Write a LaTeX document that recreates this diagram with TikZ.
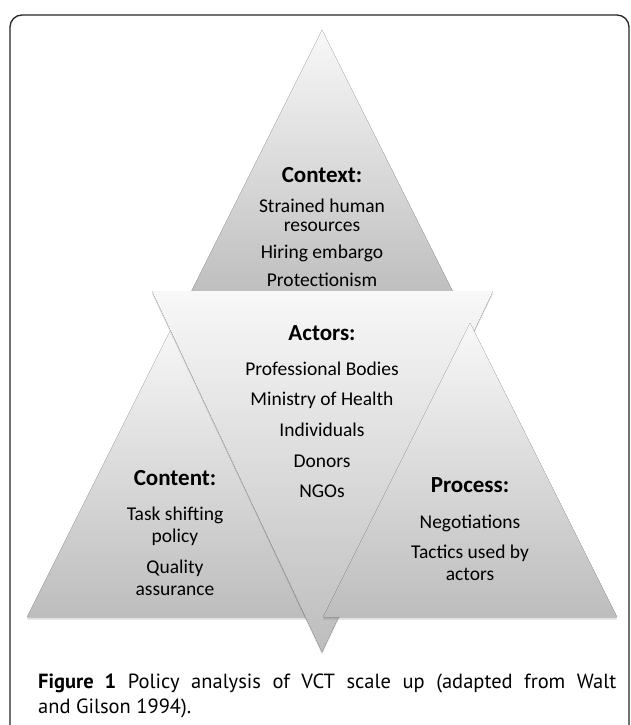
\documentclass[tikz,border=0pt]{standalone}
\usepackage{fontspec}
\setmainfont{Carlito}
\newfontfamily\capfont{PT Sans}
\usetikzlibrary{shadows}
\definecolor{triTop}{HTML}{F8F8F8}
\definecolor{triBot}{HTML}{BDBDBD}

\begin{document}
\begin{tikzpicture}[x=1pt,y=-1pt,
	frame/.style={line width=1.3pt,rounded corners=12pt,draw=black!85},
	tri/.style={top color=triTop,bottom color=triBot,
		drop shadow={shadow xshift=0pt,shadow yshift=-2.5pt,opacity=.18,fill=black!70}},
	head/.style={anchor=base,inner sep=0pt,font=\fontsize{23}{25}\selectfont\bfseries},
	item/.style={anchor=base,inner sep=0pt,font=\fontsize{19.5}{21}\selectfont},
	captext/.style={anchor=base west,inner sep=0pt,font=\capfont\fontsize{20.5}{23}\selectfont}]
	\useasboundingbox (0,0) rectangle (630,725);
	\clip (0,0) rectangle (630,725);
	\fill[white] (0,0) rectangle (630,725);
	\draw[frame] (10,15) rectangle (629,790);
	% corners of the four triangles
	\coordinate (CtxTop) at (322,30);
	\coordinate (CtxL) at (187,300);
	\coordinate (CtxR) at (457,300);
	\coordinate (CntTop) at (174,323);
	\coordinate (CntL) at (27,617);
	\coordinate (CntR) at (321,617);
	\coordinate (ActL) at (152,291);
	\coordinate (ActR) at (493,291);
	\coordinate (ActTip) at (322,652);
	\coordinate (PrcTop) at (470,323);
	\coordinate (PrcL) at (323,617);
	\coordinate (PrcR) at (617,617);
	\fill[tri] (CtxTop) -- (CtxR) -- (CtxL) -- cycle;
	\fill[tri] (CntTop) -- (CntR) -- (CntL) -- cycle;
	\fill[tri] (ActL) -- (ActR) -- (ActTip) -- cycle;
	\fill[tri] (PrcTop) -- (PrcR) -- (PrcL) -- cycle;
	% texts
	\node[head] (Context) at (322,182) {Context:};
	\node[item] (CtxA) at (322,212) {Strained human};
	\node[item] (CtxB) at (322,231) {resources};
	\node[item] (CtxC) at (322,258) {Hiring embargo};
	\node[item] (CtxD) at (322,286) {Protectionism};
	\node[head] (Actors) at (322,340) {Actors:};
	\node[item] (ActA) at (322,375) {Professional Bodies};
	\node[item] (ActB) at (322,405) {Ministry of Health};
	\node[item] (ActC) at (322,436) {Individuals};
	\node[item] (ActD) at (322,467) {Donors};
	\node[item] (ActE) at (322,497) {NGOs};
	\node[head] (Content) at (175,485) {Content:};
	\node[item] (CntA) at (175,520) {Task shifting};
	\node[item] (CntB) at (175,542) {policy};
	\node[item] (CntC) at (175,573) {Quality};
	\node[item] (CntD) at (175,595) {assurance};
	\node[head] (Process) at (470,492) {Process:};
	\node[item] (PrcA) at (470,528) {Negotiations};
	\node[item] (PrcB) at (470,558) {Tactics used by};
	\node[item] (PrcC) at (470,580) {actors};
	% caption
	\node[captext] (CapA) at (38,688) {\makebox[578pt][s]{\textbf{Figure 1} Policy analysis of VCT scale up (adapted from Walt}};
	\node[captext] (CapB) at (38,713) {and Gilson 1994).};
\end{tikzpicture}
\end{document}
